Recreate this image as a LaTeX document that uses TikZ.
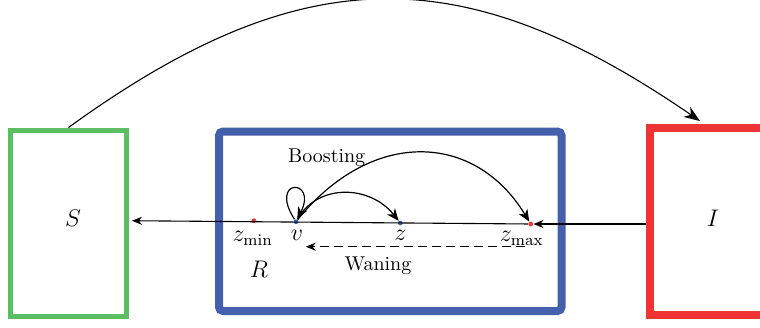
\documentclass[tikz,border=0pt]{standalone}
\usetikzlibrary{arrows.meta,calc}
\definecolor{sgreen}{RGB}{92,190,98}
\definecolor{rblue}{RGB}{68,96,172}
\definecolor{ired}{RGB}{238,52,52}
\definecolor{dotred}{RGB}{232,56,60}
\definecolor{dotblue}{RGB}{64,96,176}
\begin{document}
\begin{tikzpicture}[x=0.5pt,y=-0.5pt,
  comp/.style={draw,line width=#1,inner sep=0pt},
  dot/.style={circle,fill=#1,inner sep=0pt,minimum size=2.4pt},
  lbl/.style={inner sep=0pt,font=\normalsize},
  mlbl/.style={inner sep=0pt,font=\large},
  flow/.style={line width=0.55pt,-{Stealth[length=5pt,width=4pt]}},
  boostflow/.style={line width=0.6pt,-{Stealth[length=6pt,width=5pt,inset=1.8pt]}},
  bigflow/.style={line width=0.55pt,-{Stealth[length=8pt,width=6pt,inset=2.5pt]}}
]
\useasboundingbox (0,0) rectangle (760,327);
\clip (0,0) rectangle (760,327);
% compartments
\node[comp=2.5pt, draw=sgreen, minimum width=58pt, minimum height=93.25pt] (Sbox) at (68.5,223.25) {};
\node[comp=4pt, draw=rblue, rounded corners=2pt, minimum width=171.25pt, minimum height=89.75pt] (Rbox) at (390.25,221.25) {};
\node[comp=4pt, draw=ired, minimum width=63pt, minimum height=93.25pt] (Ibox) at (713,221.25) {};
\node[mlbl] (Slab) at (73,218) {$S$};
\node[mlbl] (Ilab) at (713,218) {$I$};
\node[mlbl] (Rlab) at (259,269) {$R$};
% points on the immunity axis
\node[dot=dotred] (zmin) at (254,220.7) {};
\node[dot=dotblue] (v) at (296,221.7) {};
\node[dot=dotblue] (z) at (400.3,223) {};
\node[dot=dotred] (zmax) at (530.7,224) {};
\node[mlbl] (zminlab) at (252.7,238.5) {$z_{\min}$};
\node[mlbl] (vlab) at (297,235.5) {$v$};
\node[mlbl] (zlab) at (400.3,235.5) {$z$};
\node[mlbl] (zmaxlab) at (521.7,238.5) {$z_{\max}$};
\node[lbl] (boost) at (326.7,158) {Boosting};
\node[lbl] (wane) at (378,266) {Waning};
% flows
\draw[bigflow] (Sbox.north) .. controls (304,-43) and (464,-41) .. ($(Ibox.north)+(-13,-3)$);
\draw[flow] (Ibox.west |- zmax) -- (zmax);
\draw[flow,shorten >=1.5pt] (zmax) -- (Sbox.east |- zmin);
% boosting
\draw[boostflow] (v) .. controls (318,183) and (370,185) .. (z);
\draw[boostflow] (v) .. controls (372,128) and (475,132) .. (zmax);
\draw[boostflow] (v) .. controls (268,178) and (318,178) .. (v);
% waning
\coordinate (wstart) at (525,246.7);
\coordinate (wend) at (305.7,246.7);
\draw[flow,dashed,dash pattern=on 4.5pt off 2.5pt] (wstart) -- (wend);
\end{tikzpicture}
\end{document}
